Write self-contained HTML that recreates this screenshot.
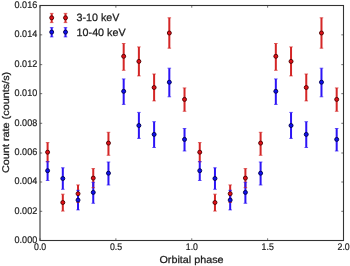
<!DOCTYPE html>
<html><head><meta charset="utf-8"><title>Orbital phase light curve</title>
<style>html,body{margin:0;padding:0;background:#fff}svg{will-change:transform}text{text-rendering:geometricPrecision}body{width:350px;height:266px;overflow:hidden;font-family:"Liberation Sans",sans-serif}</style>
</head><body>
<svg width="350" height="266" viewBox="0 0 350 266" style="display:block;font-family:'Liberation Sans',sans-serif">
<rect width="350" height="266" fill="#fff"/>
<path d="M47.60 142.60V161.80M62.82 194.20V211.10M78.03 184.90V202.50M93.25 168.60V187.70M108.46 132.30V155.30M123.68 43.50V70.30M138.89 46.90V75.90M154.11 74.00V100.90M169.32 17.80V48.20M184.53 87.90V111.30M199.75 142.60V161.80M214.96 194.20V211.10M230.18 184.90V202.50M245.40 168.60V187.70M260.61 132.30V155.30M275.83 43.50V70.30M291.04 46.90V75.90M306.26 74.00V100.90M321.47 17.80V48.20M336.69 87.90V111.30M51.70 13.40V22.60M65.50 13.40V22.60" stroke="#d42626" stroke-width="2.0" fill="none"/>
<path d="M47.60 161.60V180.50M62.82 167.80V189.30M78.03 190.30V209.90M93.25 182.30V203.30M108.46 162.00V185.00M123.68 78.90V104.40M138.89 112.40V138.40M154.11 121.70V147.50M169.32 68.20V96.80M184.53 128.50V151.00M199.75 161.60V180.50M214.96 167.80V189.30M230.18 190.30V209.90M245.40 182.30V203.30M260.61 162.00V185.00M275.83 78.90V104.40M291.04 112.40V138.40M306.26 121.70V147.50M321.47 68.20V96.80M336.69 128.50V151.00M51.70 27.60V36.90M65.50 27.60V36.90" stroke="#2c14f6" stroke-width="2.0" fill="none"/>
<path d="M45.80 142.60h3.6M45.80 161.80h3.6M61.02 194.20h3.6M61.02 211.10h3.6M76.23 184.90h3.6M76.23 202.50h3.6M91.45 168.60h3.6M91.45 187.70h3.6M106.66 132.30h3.6M106.66 155.30h3.6M121.88 43.50h3.6M121.88 70.30h3.6M137.09 46.90h3.6M137.09 75.90h3.6M152.31 74.00h3.6M152.31 100.90h3.6M167.52 17.80h3.6M167.52 48.20h3.6M182.73 87.90h3.6M182.73 111.30h3.6M197.95 142.60h3.6M197.95 161.80h3.6M213.16 194.20h3.6M213.16 211.10h3.6M228.38 184.90h3.6M228.38 202.50h3.6M243.59 168.60h3.6M243.59 187.70h3.6M258.81 132.30h3.6M258.81 155.30h3.6M274.03 43.50h3.6M274.03 70.30h3.6M289.24 46.90h3.6M289.24 75.90h3.6M304.46 74.00h3.6M304.46 100.90h3.6M319.67 17.80h3.6M319.67 48.20h3.6M334.89 87.90h3.6M334.89 111.30h3.6M49.90 13.40h3.6M49.90 22.60h3.6M63.70 13.40h3.6M63.70 22.60h3.6" stroke="#d42626" stroke-width="0.7" fill="none"/>
<circle cx="47.60" cy="152.20" r="2.0" fill="#e01018" stroke="#4c0000" stroke-width="0.9"/><circle cx="62.82" cy="202.50" r="2.0" fill="#e01018" stroke="#4c0000" stroke-width="0.9"/><circle cx="78.03" cy="193.70" r="2.0" fill="#e01018" stroke="#4c0000" stroke-width="0.9"/><circle cx="93.25" cy="178.10" r="2.0" fill="#e01018" stroke="#4c0000" stroke-width="0.9"/><circle cx="108.46" cy="143.10" r="2.0" fill="#e01018" stroke="#4c0000" stroke-width="0.9"/><circle cx="123.68" cy="56.30" r="2.0" fill="#e01018" stroke="#4c0000" stroke-width="0.9"/><circle cx="138.89" cy="61.40" r="2.0" fill="#e01018" stroke="#4c0000" stroke-width="0.9"/><circle cx="154.11" cy="87.50" r="2.0" fill="#e01018" stroke="#4c0000" stroke-width="0.9"/><circle cx="169.32" cy="33.00" r="2.0" fill="#e01018" stroke="#4c0000" stroke-width="0.9"/><circle cx="184.53" cy="99.40" r="2.0" fill="#e01018" stroke="#4c0000" stroke-width="0.9"/><circle cx="199.75" cy="152.20" r="2.0" fill="#e01018" stroke="#4c0000" stroke-width="0.9"/><circle cx="214.96" cy="202.50" r="2.0" fill="#e01018" stroke="#4c0000" stroke-width="0.9"/><circle cx="230.18" cy="193.70" r="2.0" fill="#e01018" stroke="#4c0000" stroke-width="0.9"/><circle cx="245.40" cy="178.10" r="2.0" fill="#e01018" stroke="#4c0000" stroke-width="0.9"/><circle cx="260.61" cy="143.10" r="2.0" fill="#e01018" stroke="#4c0000" stroke-width="0.9"/><circle cx="275.83" cy="56.30" r="2.0" fill="#e01018" stroke="#4c0000" stroke-width="0.9"/><circle cx="291.04" cy="61.40" r="2.0" fill="#e01018" stroke="#4c0000" stroke-width="0.9"/><circle cx="306.26" cy="87.50" r="2.0" fill="#e01018" stroke="#4c0000" stroke-width="0.9"/><circle cx="321.47" cy="33.00" r="2.0" fill="#e01018" stroke="#4c0000" stroke-width="0.9"/><circle cx="336.69" cy="99.40" r="2.0" fill="#e01018" stroke="#4c0000" stroke-width="0.9"/><circle cx="51.70" cy="17.80" r="2.0" fill="#e01018" stroke="#4c0000" stroke-width="0.9"/><circle cx="65.50" cy="17.80" r="2.0" fill="#e01018" stroke="#4c0000" stroke-width="0.9"/>
<path d="M45.80 161.60h3.6M45.80 180.50h3.6M61.02 167.80h3.6M61.02 189.30h3.6M76.23 190.30h3.6M76.23 209.90h3.6M91.45 182.30h3.6M91.45 203.30h3.6M106.66 162.00h3.6M106.66 185.00h3.6M121.88 78.90h3.6M121.88 104.40h3.6M137.09 112.40h3.6M137.09 138.40h3.6M152.31 121.70h3.6M152.31 147.50h3.6M167.52 68.20h3.6M167.52 96.80h3.6M182.73 128.50h3.6M182.73 151.00h3.6M197.95 161.60h3.6M197.95 180.50h3.6M213.16 167.80h3.6M213.16 189.30h3.6M228.38 190.30h3.6M228.38 209.90h3.6M243.59 182.30h3.6M243.59 203.30h3.6M258.81 162.00h3.6M258.81 185.00h3.6M274.03 78.90h3.6M274.03 104.40h3.6M289.24 112.40h3.6M289.24 138.40h3.6M304.46 121.70h3.6M304.46 147.50h3.6M319.67 68.20h3.6M319.67 96.80h3.6M334.89 128.50h3.6M334.89 151.00h3.6M49.90 27.60h3.6M49.90 36.90h3.6M63.70 27.60h3.6M63.70 36.90h3.6" stroke="#2c14f6" stroke-width="0.7" fill="none"/>
<circle cx="47.60" cy="170.70" r="2.0" fill="#1010ee" stroke="#00004c" stroke-width="0.9"/><circle cx="62.82" cy="178.50" r="2.0" fill="#1010ee" stroke="#00004c" stroke-width="0.9"/><circle cx="78.03" cy="200.10" r="2.0" fill="#1010ee" stroke="#00004c" stroke-width="0.9"/><circle cx="93.25" cy="192.40" r="2.0" fill="#1010ee" stroke="#00004c" stroke-width="0.9"/><circle cx="108.46" cy="173.20" r="2.0" fill="#1010ee" stroke="#00004c" stroke-width="0.9"/><circle cx="123.68" cy="91.30" r="2.0" fill="#1010ee" stroke="#00004c" stroke-width="0.9"/><circle cx="138.89" cy="125.50" r="2.0" fill="#1010ee" stroke="#00004c" stroke-width="0.9"/><circle cx="154.11" cy="134.40" r="2.0" fill="#1010ee" stroke="#00004c" stroke-width="0.9"/><circle cx="169.32" cy="82.20" r="2.0" fill="#1010ee" stroke="#00004c" stroke-width="0.9"/><circle cx="184.53" cy="139.40" r="2.0" fill="#1010ee" stroke="#00004c" stroke-width="0.9"/><circle cx="199.75" cy="170.70" r="2.0" fill="#1010ee" stroke="#00004c" stroke-width="0.9"/><circle cx="214.96" cy="178.50" r="2.0" fill="#1010ee" stroke="#00004c" stroke-width="0.9"/><circle cx="230.18" cy="200.10" r="2.0" fill="#1010ee" stroke="#00004c" stroke-width="0.9"/><circle cx="245.40" cy="192.40" r="2.0" fill="#1010ee" stroke="#00004c" stroke-width="0.9"/><circle cx="260.61" cy="173.20" r="2.0" fill="#1010ee" stroke="#00004c" stroke-width="0.9"/><circle cx="275.83" cy="91.30" r="2.0" fill="#1010ee" stroke="#00004c" stroke-width="0.9"/><circle cx="291.04" cy="125.50" r="2.0" fill="#1010ee" stroke="#00004c" stroke-width="0.9"/><circle cx="306.26" cy="134.40" r="2.0" fill="#1010ee" stroke="#00004c" stroke-width="0.9"/><circle cx="321.47" cy="82.20" r="2.0" fill="#1010ee" stroke="#00004c" stroke-width="0.9"/><circle cx="336.69" cy="139.40" r="2.0" fill="#1010ee" stroke="#00004c" stroke-width="0.9"/><circle cx="51.70" cy="32.10" r="2.0" fill="#1010ee" stroke="#00004c" stroke-width="0.9"/><circle cx="65.50" cy="32.10" r="2.0" fill="#1010ee" stroke="#00004c" stroke-width="0.9"/>
<rect x="40.0" y="5.5" width="303.5" height="235.00" fill="none" stroke="#333" stroke-width="1.1"/>
<path d="M40.0 240.50h2.2M343.5 240.50h-2.2M40.0 211.30h2.2M343.5 211.30h-2.2M40.0 182.00h2.2M343.5 182.00h-2.2M40.0 153.00h2.2M343.5 153.00h-2.2M40.0 123.30h2.2M343.5 123.30h-2.2M40.0 93.65h2.2M343.5 93.65h-2.2M40.0 64.65h2.2M343.5 64.65h-2.2M40.0 34.85h2.2M343.5 34.85h-2.2M40.0 5.50h2.2M343.5 5.50h-2.2M40.00 240.5v-2.2M40.00 5.5v2.2M115.88 240.5v-2.2M115.88 5.5v2.2M191.75 240.5v-2.2M191.75 5.5v2.2M267.62 240.5v-2.2M267.62 5.5v2.2M343.50 240.5v-2.2M343.50 5.5v2.2" stroke="#333" stroke-width="0.7" fill="none"/>
<text x="37.2" y="242.55" font-size="9.6" text-anchor="end" textLength="22.6" lengthAdjust="spacingAndGlyphs" fill="#222" stroke="#222" stroke-width="0.2">0.000</text>
<text x="37.2" y="213.60" font-size="9.6" text-anchor="end" textLength="22.6" lengthAdjust="spacingAndGlyphs" fill="#222" stroke="#222" stroke-width="0.2">0.002</text>
<text x="37.2" y="184.30" font-size="9.6" text-anchor="end" textLength="22.6" lengthAdjust="spacingAndGlyphs" fill="#222" stroke="#222" stroke-width="0.2">0.004</text>
<text x="37.2" y="155.30" font-size="9.6" text-anchor="end" textLength="22.6" lengthAdjust="spacingAndGlyphs" fill="#222" stroke="#222" stroke-width="0.2">0.006</text>
<text x="37.2" y="125.60" font-size="9.6" text-anchor="end" textLength="22.6" lengthAdjust="spacingAndGlyphs" fill="#222" stroke="#222" stroke-width="0.2">0.008</text>
<text x="37.2" y="95.95" font-size="9.6" text-anchor="end" textLength="22.6" lengthAdjust="spacingAndGlyphs" fill="#222" stroke="#222" stroke-width="0.2">0.010</text>
<text x="37.2" y="66.95" font-size="9.6" text-anchor="end" textLength="22.6" lengthAdjust="spacingAndGlyphs" fill="#222" stroke="#222" stroke-width="0.2">0.012</text>
<text x="37.2" y="37.15" font-size="9.6" text-anchor="end" textLength="22.6" lengthAdjust="spacingAndGlyphs" fill="#222" stroke="#222" stroke-width="0.2">0.014</text>
<text x="37.2" y="7.55" font-size="9.6" text-anchor="end" textLength="22.6" lengthAdjust="spacingAndGlyphs" fill="#222" stroke="#222" stroke-width="0.2">0.016</text>
<text x="34.00" y="250.0" font-size="9.6" textLength="12.2" lengthAdjust="spacingAndGlyphs" fill="#222" stroke="#222" stroke-width="0.2">0.0</text>
<text x="109.88" y="250.0" font-size="9.6" textLength="12.2" lengthAdjust="spacingAndGlyphs" fill="#222" stroke="#222" stroke-width="0.2">0.5</text>
<text x="185.75" y="250.0" font-size="9.6" textLength="12.2" lengthAdjust="spacingAndGlyphs" fill="#222" stroke="#222" stroke-width="0.2">1.0</text>
<text x="261.62" y="250.0" font-size="9.6" textLength="12.2" lengthAdjust="spacingAndGlyphs" fill="#222" stroke="#222" stroke-width="0.2">1.5</text>
<text x="337.50" y="250.0" font-size="9.6" textLength="12.2" lengthAdjust="spacingAndGlyphs" fill="#222" stroke="#222" stroke-width="0.2">2.0</text>
<text x="159.5" y="262.5" font-size="10.1" textLength="64" lengthAdjust="spacingAndGlyphs" fill="#1c1c1c" stroke="#1c1c1c" stroke-width="0.25">Orbital phase</text>
<text transform="translate(9.1 173) rotate(-90)" font-size="9.7" textLength="101.2" lengthAdjust="spacingAndGlyphs" fill="#1c1c1c" stroke="#1c1c1c" stroke-width="0.25">Count rate (counts/s)</text>
<text x="76.6" y="21.3" font-size="10.6" textLength="42.8" lengthAdjust="spacingAndGlyphs" fill="#1c1c1c" stroke="#1c1c1c" stroke-width="0.25">3-10 keV</text>
<text x="76.6" y="35.5" font-size="10.6" textLength="49" lengthAdjust="spacingAndGlyphs" fill="#1c1c1c" stroke="#1c1c1c" stroke-width="0.25">10-40 keV</text>
</svg>
</body></html>
